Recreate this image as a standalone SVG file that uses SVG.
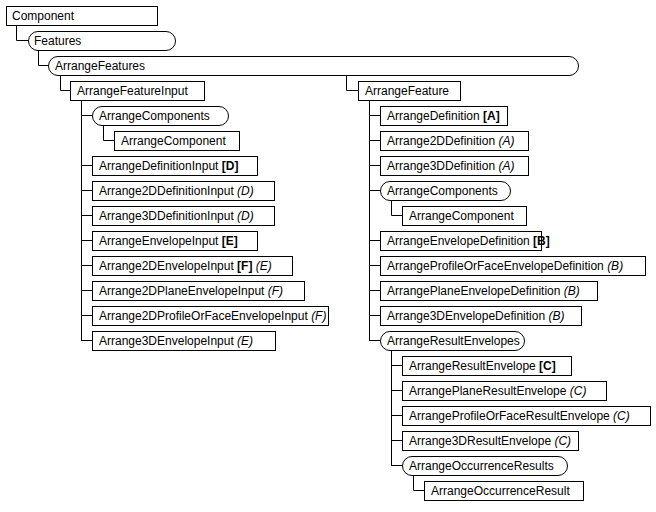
<svg xmlns="http://www.w3.org/2000/svg" width="656" height="512" viewBox="0 0 656 512">
<style>
rect{fill:#fff;stroke:#000;stroke-width:1}
text{font-family:"Liberation Sans",Arial,sans-serif;font-size:12px;fill:#000}
.b{font-weight:bold}.i{font-style:italic}
.c path{fill:none;stroke:#000;stroke-width:1}
</style>
<rect width="656" height="512" style="stroke:none"/>
<g class="c">
<path d="M16.5 25V40.5H28M38.5 50V65.5H48M60.5 75V90.5H70M346.5 75V90.5H358"/>
<path d="M81.5 100V340.5M81 115.5H92M81 165.5H92M81 190.5H92M81 215.5H92M81 240.5H92M81 265.5H92M81 290.5H92M81 315.5H92M81 340.5H92M103.5 125V140.5H114"/>
<path d="M369.5 100V340.5M369 115.5H380M369 140.5H380M369 165.5H380M369 190.5H380M369 240.5H380M369 265.5H380M369 290.5H380M369 315.5H380M369 340.5H380M391.5 200V215.5H402"/>
<path d="M391.5 350V465.5M391 365.5H402M391 390.5H402M391 415.5H402M391 440.5H402M391 465.5H402M413.5 475V490.5H424"/>
</g>
<g id="n1"><rect x="6.5" y="6.5" width="151" height="19"/><text x="12" y="20">Component</text></g>
<g id="n2"><rect x="28.5" y="31.5" width="147" height="19" rx="9.5"/><text x="34" y="45">Features</text></g>
<g id="n3"><rect x="48.5" y="56.5" width="530" height="19" rx="9.5"/><text x="55" y="70">ArrangeFeatures</text></g>
<g id="n4"><rect x="70.5" y="81.5" width="134" height="19"/><text x="77" y="95">ArrangeFeatureInput</text></g>
<g id="n5"><rect x="92.5" y="106.5" width="136" height="19" rx="9.5"/><text x="99" y="120">ArrangeComponents</text></g>
<g id="n6"><rect x="114.5" y="131.5" width="125" height="19"/><text x="121" y="145">ArrangeComponent</text></g>
<g id="n7"><rect x="92.5" y="156.5" width="165" height="19"/><text x="99" y="170">ArrangeDefinitionInput  <tspan class="b">[D]</tspan></text></g>
<g id="n8"><rect x="92.5" y="181.5" width="182" height="19"/><text x="99" y="195">Arrange2DDefinitionInput  <tspan class="i">(D)</tspan></text></g>
<g id="n9"><rect x="92.5" y="206.5" width="182" height="19"/><text x="99" y="220">Arrange3DDefinitionInput  <tspan class="i">(D)</tspan></text></g>
<g id="n10"><rect x="92.5" y="231.5" width="165" height="19"/><text x="99" y="245">ArrangeEnvelopeInput  <tspan class="b">[E]</tspan></text></g>
<g id="n11"><rect x="92.5" y="256.5" width="200" height="19"/><text x="99" y="270">Arrange2DEnvelopeInput  <tspan class="b">[F]</tspan> <tspan class="i">(E)</tspan></text></g>
<g id="n12"><rect x="92.5" y="281.5" width="212" height="19"/><text x="99" y="295">Arrange2DPlaneEnvelopeInput  <tspan class="i">(F)</tspan></text></g>
<g id="n13"><rect x="92.5" y="306.5" width="236" height="19"/><text x="99" y="320">Arrange2DProfileOrFaceEnvelopeInput  <tspan class="i">(F)</tspan></text></g>
<g id="n14"><rect x="92.5" y="331.5" width="183" height="19"/><text x="99" y="345">Arrange3DEnvelopeInput  <tspan class="i">(E)</tspan></text></g>
<g id="n15"><rect x="358.5" y="81.5" width="102" height="19"/><text x="365" y="95">ArrangeFeature</text></g>
<g id="n16"><rect x="380.5" y="106.5" width="127" height="19"/><text x="387" y="120">ArrangeDefinition <tspan class="b">[A]</tspan></text></g>
<g id="n17"><rect x="380.5" y="131.5" width="148" height="19"/><text x="387" y="145">Arrange2DDefinition <tspan class="i">(A)</tspan></text></g>
<g id="n18"><rect x="380.5" y="156.5" width="148" height="19"/><text x="387" y="170">Arrange3DDefinition <tspan class="i">(A)</tspan></text></g>
<g id="n19"><rect x="380.5" y="181.5" width="130" height="19" rx="9.5"/><text x="387" y="195">ArrangeComponents</text></g>
<g id="n20"><rect x="402.5" y="206.5" width="124" height="19"/><text x="409" y="220">ArrangeComponent</text></g>
<g id="n21"><rect x="380.5" y="231.5" width="161" height="19"/><text x="387" y="245">ArrangeEnvelopeDefinition <tspan class="b">[B]</tspan></text></g>
<g id="n22"><rect x="380.5" y="256.5" width="265" height="19"/><text x="387" y="270">ArrangeProfileOrFaceEnvelopeDefinition <tspan class="i">(B)</tspan></text></g>
<g id="n23"><rect x="380.5" y="281.5" width="217" height="19"/><text x="387" y="295">ArrangePlaneEnvelopeDefinition <tspan class="i">(B)</tspan></text></g>
<g id="n24"><rect x="380.5" y="306.5" width="201" height="19"/><text x="387" y="320">Arrange3DEnvelopeDefinition <tspan class="i">(B)</tspan></text></g>
<g id="n25"><rect x="380.5" y="331.5" width="144" height="19" rx="9.5"/><text x="387" y="345">ArrangeResultEnvelopes</text></g>
<g id="n26"><rect x="402.5" y="356.5" width="169" height="19"/><text x="409" y="370">ArrangeResultEnvelope  <tspan class="b">[C]</tspan></text></g>
<g id="n27"><rect x="402.5" y="381.5" width="204" height="19"/><text x="409" y="395">ArrangePlaneResultEnvelope  <tspan class="i">(C)</tspan></text></g>
<g id="n28"><rect x="402.5" y="406.5" width="248" height="19"/><text x="409" y="420">ArrangeProfileOrFaceResultEnvelope  <tspan class="i">(C)</tspan></text></g>
<g id="n29"><rect x="402.5" y="431.5" width="176" height="19"/><text x="409" y="445">Arrange3DResultEnvelope  <tspan class="i">(C)</tspan></text></g>
<g id="n30"><rect x="402.5" y="456.5" width="165" height="19" rx="9.5"/><text x="409" y="470">ArrangeOccurrenceResults</text></g>
<g id="n31"><rect x="424.5" y="481.5" width="159" height="19"/><text x="431" y="495">ArrangeOccurrenceResult</text></g>
</svg>
